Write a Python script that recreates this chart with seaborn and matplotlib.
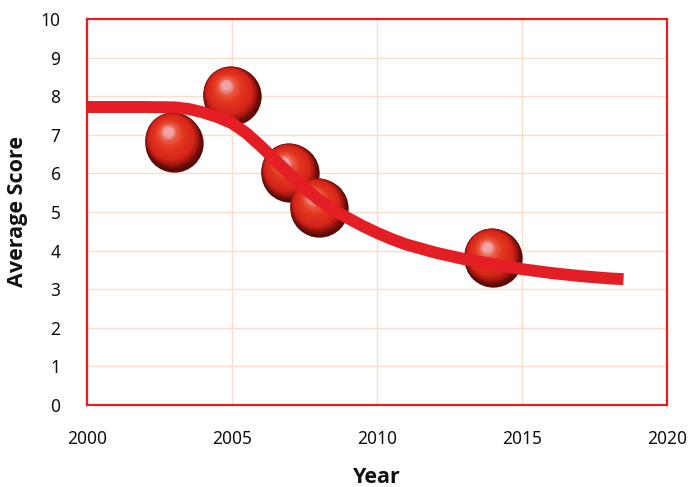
import numpy as np
import pandas as pd
import matplotlib
matplotlib.use("Agg")
import matplotlib.pyplot as plt
from matplotlib.colors import LinearSegmentedColormap
from matplotlib.transforms import offset_copy
from matplotlib import font_manager
import seaborn as sns

# Observed average scores
years = [2003, 2005, 2007, 2008, 2014]
scores = [6.8, 8.0, 6.0, 5.1, 3.8]

# Fitted trend curve
trend_years = [2000, 2001, 2002, 2003, 2003.5, 2004, 2004.5, 2005, 2005.5, 2006,
               2006.5, 2007, 2007.5, 2008, 2008.5, 2009, 2009.5, 2010, 2010.5,
               2011, 2012, 2013, 2014, 2015, 2016, 2017, 2018, 2018.5]
trend_scores = [7.72, 7.72, 7.72, 7.71, 7.67, 7.58, 7.46, 7.3, 7.04, 6.7,
                6.34, 5.97, 5.62, 5.31, 5.06, 4.84, 4.64, 4.46, 4.3,
                4.16, 3.95, 3.78, 3.65, 3.52, 3.42, 3.34, 3.28, 3.26]

x_ticks = [2000, 2005, 2010, 2015, 2020]
y_ticks = list(range(0, 11))

RED = "#e31e24"
GRID = "#fbdccd"

sns.set_theme(style="white")
plt.rcParams["font.family"] = ["Noto Sans", "DejaVu Sans"]

# pick an installed family that has a bold face for the axis titles
bold_family = "DejaVu Sans"
for fam in ["Noto Sans", "Open Sans", "Lato", "Roboto"]:
    try:
        path = font_manager.findfont(
            font_manager.FontProperties(family=fam, weight="bold"),
            fallback_to_default=False)
        if "bold" in path.lower():
            bold_family = fam
            break
    except Exception:
        pass

fig = plt.figure(figsize=(6.92, 4.87), dpi=100)
ax = fig.add_axes([0.1257, 0.1684, 0.8382, 0.7926])

pts = pd.DataFrame({"year": years, "score": scores})
trend = pd.DataFrame({"year": trend_years, "score": trend_scores})

# Shaded spheres: stacked discs shrinking toward an upper-left highlight
shade = LinearSegmentedColormap.from_list(
    "sphere", [(0.0, "#5a0b08"), (0.08, "#a0160f"), (0.2, "#d6251a"),
               (0.55, "#e3371f"), (0.8, "#e95a44"), (0.92, "#ec8880"),
               (1.0, "#f0a4aa")])
radius_pt = 21.0
hx, hy = -4.5, 8.0
n_layers = 36
for i in range(n_layers):
    t = i / (n_layers - 1)
    r = radius_pt * (1 - 0.85 * t ** 0.85)
    k = t ** 0.45
    tr = offset_copy(ax.transData, fig=fig, x=hx * k, y=hy * k, units="points")
    sns.scatterplot(data=pts, x="year", y="score", ax=ax, s=(2 * r) ** 2,
                    color=shade(t), linewidth=0, transform=tr, zorder=3 + t,
                    legend=False)

sns.lineplot(data=trend, x="year", y="score", ax=ax, color=RED, linewidth=8.6,
             solid_capstyle="butt", solid_joinstyle="round", zorder=5,
             sort=False, estimator=None)

ax.set_xlim(2000, 2020)
ax.set_ylim(0, 10)
ax.set_xticks(x_ticks)
ax.set_yticks(y_ticks)
ax.grid(True, color=GRID, linewidth=1.0)
ax.set_axisbelow(True)
for sp in ax.spines.values():
    sp.set_color(RED)
    sp.set_linewidth(1.6)
    sp.set_zorder(10)
ax.tick_params(axis="both", length=0, labelsize=12.5, colors="#111111")
ax.tick_params(axis="y", pad=19)
ax.tick_params(axis="x", pad=18)
ax.set_xlabel("Year", fontsize=15.5, fontweight="bold", family=bold_family,
              labelpad=14, color="#111111")
ax.set_ylabel("Average Score", fontsize=15.5, fontweight="bold", family=bold_family,
              labelpad=9, color="#111111")

fig.savefig("out.png", dpi=100)
